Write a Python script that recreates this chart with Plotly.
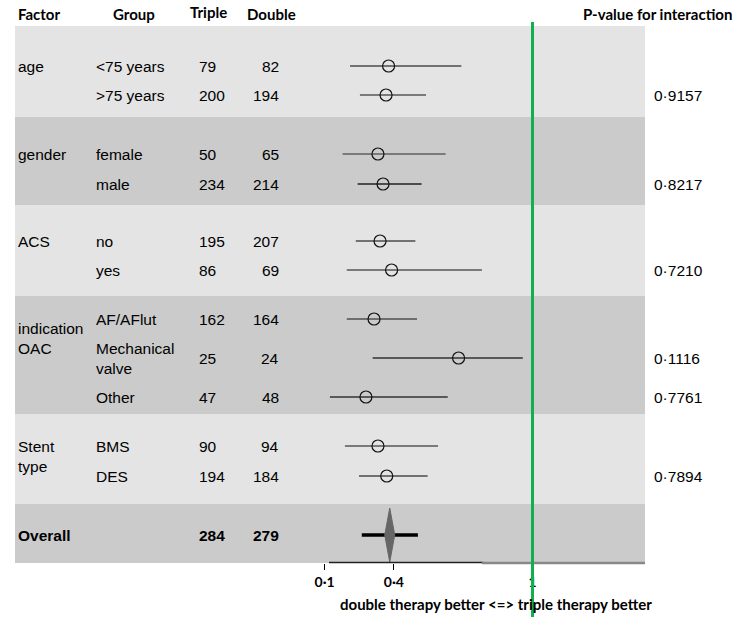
import plotly.graph_objects as go

# ---------------- data ----------------
factors = ["age", "gender", "ACS", "indication<br>OAC", "Stent<br>type"]
groups = ["<75 years", ">75 years", "female", "male", "no", "yes",
          "AF/AFlut", "Mechanical<br>valve", "Other", "BMS", "DES"]
triple = [79, 200, 50, 234, 195, 86, 162, 25, 47, 90, 194]
double = [82, 194, 65, 214, 207, 69, 164, 24, 48, 94, 184]
estimate = [0.377, 0.366, 0.331, 0.353, 0.340, 0.390, 0.314, 0.680, 0.279, 0.331, 0.369]
lower = [0.210, 0.253, 0.178, 0.243, 0.235, 0.196, 0.196, 0.308, 0.123, 0.188, 0.249]
upper = [0.692, 0.539, 0.624, 0.520, 0.493, 0.781, 0.500, 0.958, 0.633, 0.591, 0.546]
p_interaction = ["", "0·9157", "", "0·8217", "", "0·7210", "", "0·1116", "0·7761", "", "0·7894"]

overall_label = "Overall"
overall_triple = 284
overall_double = 279
overall_est = 0.382
overall_lo = 0.261
overall_hi = 0.504

tick_vals = [0.1, 0.4, 1]
tick_text = ["0·1", "0·4", "1"]
axis_title = "double therapy better <=> triple therapy better"
headers = ["Factor", "Group", "Triple", "Double", "P-value for interaction"]

# ---------------- layout constants (pixels) ----------------
W, H = 748, 623
row_y = [66, 95, 154, 184, 241, 270, 319, 358, 397, 446, 476]
factor_y = [66, 154, 241, 338, 456]
overall_y = 535
bands = [(26, 117, "#e4e4e4"), (117, 205, "#cbcbcb"), (205, 296, "#e4e4e4"),
         (296, 414, "#cbcbcb"), (414, 504, "#e4e4e4"), (504, 563, "#cbcbcb")]
line_colors = ["#000000", "#7a7a7a", "#7a7a7a", "#222222", "#000000", "#7a7a7a",
               "#6e6e6e", "#333333", "#333333", "#7a7a7a", "#000000"]
line_widths = [1.2, 2, 2, 1.5, 1.2, 2, 2, 1.5, 1.5, 2, 1.2]
x0_px, px_per_unit = 301.5, 231.0
axis_px = 563

BODY = "Liberation Sans, Arial, sans-serif"
BOLD = "Lato, Open Sans, sans-serif"
BODY_SIZE = 15.5


def px(xp):
    return xp / W


fig = go.Figure()

# CI lines and point estimates
for i in range(len(groups)):
    fig.add_trace(go.Scatter(
        x=[lower[i], upper[i]], y=[row_y[i], row_y[i]], mode="lines",
        line=dict(color=line_colors[i], width=line_widths[i]),
        hoverinfo="skip", showlegend=False))
fig.add_trace(go.Scatter(
    x=estimate, y=row_y, mode="markers",
    marker=dict(symbol="circle", size=12, color="rgba(0,0,0,0)",
                line=dict(color="#111111", width=1.2)),
    showlegend=False))

# Overall
fig.add_trace(go.Scatter(
    x=[overall_lo, overall_hi], y=[overall_y, overall_y], mode="lines",
    line=dict(color="#000000", width=3.5), showlegend=False, hoverinfo="skip"))
dw = 5 / px_per_unit
fig.add_trace(go.Scatter(
    x=[overall_est, overall_est + dw, overall_est, overall_est - dw, overall_est],
    y=[overall_y - 27, overall_y, overall_y + 27, overall_y, overall_y - 27],
    mode="lines", fill="toself", fillcolor="#666666",
    line=dict(color="#666666", width=1), showlegend=False, hoverinfo="skip"))

shapes = []
for (y0, y1, c) in bands:
    shapes.append(dict(type="rect", xref="paper", yref="y", x0=px(15), x1=px(645),
                       y0=y0, y1=y1, fillcolor=c, line=dict(width=0), layer="below"))
# axis baseline
shapes.append(dict(type="line", xref="paper", yref="y", x0=px(329), x1=px(483),
                   y0=axis_px - 0.5, y1=axis_px - 0.5,
                   line=dict(color="#222222", width=1.5), layer="above"))
shapes.append(dict(type="line", xref="paper", yref="y", x0=px(482), x1=px(645),
                   y0=axis_px, y1=axis_px, line=dict(color="#888888", width=2.5),
                   layer="above"))
# green reference line at 1
shapes.append(dict(type="line", xref="x", yref="y", x0=1, x1=1, y0=22, y1=617,
                   line=dict(color="#10b050", width=3), layer="above"))

ann = []


def txt(x, y, s, anchor="left", bold=False, size=BODY_SIZE, font=BODY, align="left"):
    ann.append(dict(x=px(x), y=y, xref="paper", yref="y", text=s, showarrow=False,
                    xanchor=anchor, yanchor="middle", align=align,
                    borderpad=0, borderwidth=0,
                    font=dict(family=font, size=size, color="#000000",
                              weight="bold" if bold else "normal")))


# headers
txt(18, 14, headers[0], bold=True, size=15, font=BOLD)
txt(134, 14, headers[1], anchor="center", bold=True, size=15, font=BOLD)
txt(190, 12, headers[2], bold=True, size=15, font=BOLD)
txt(247, 14, headers[3], bold=True, size=15, font=BOLD)
txt(732, 14, headers[4], anchor="right", bold=True, size=15, font=BOLD)

for f, y in zip(factors, factor_y):
    txt(18, y, f)
for i, g in enumerate(groups):
    txt(96, row_y[i], g)
    txt(199, row_y[i], str(triple[i]))
    txt(279, row_y[i], str(double[i]), anchor="right")
    if p_interaction[i]:
        txt(654, row_y[i], p_interaction[i])

txt(18, overall_y, "<b>" + overall_label + "</b>")
txt(199, overall_y, "<b>" + str(overall_triple) + "</b>")
txt(279, overall_y, "<b>" + str(overall_double) + "</b>", anchor="right")

txt(496, 604, "<b>" + axis_title + "</b>", anchor="center", size=15, font=BOLD)

fig.update_layout(
    width=W, height=H, margin=dict(l=0, r=0, t=0, b=0),
    paper_bgcolor="white", plot_bgcolor="white",
    shapes=shapes, annotations=ann, showlegend=False,
    xaxis=dict(range=[-x0_px / px_per_unit, (W - x0_px) / px_per_unit],
               domain=[0, 1], anchor="free", position=(H - axis_px) / H,
               showgrid=False, zeroline=False, showline=False,
               tickmode="array", tickvals=tick_vals, ticktext=tick_text,
               ticks="outside", ticklen=6, tickcolor="#000000", tickwidth=1,
               tickfont=dict(family=BOLD, size=14, color="#000000", weight="bold"),
               automargin=False),
    yaxis=dict(range=[H, 0], domain=[0, 1], visible=False, automargin=False),
)

fig.write_html("out.html", config={"displayModeBar": False},
               post_script="document.body.style.margin='0';document.body.style.padding='0';")
